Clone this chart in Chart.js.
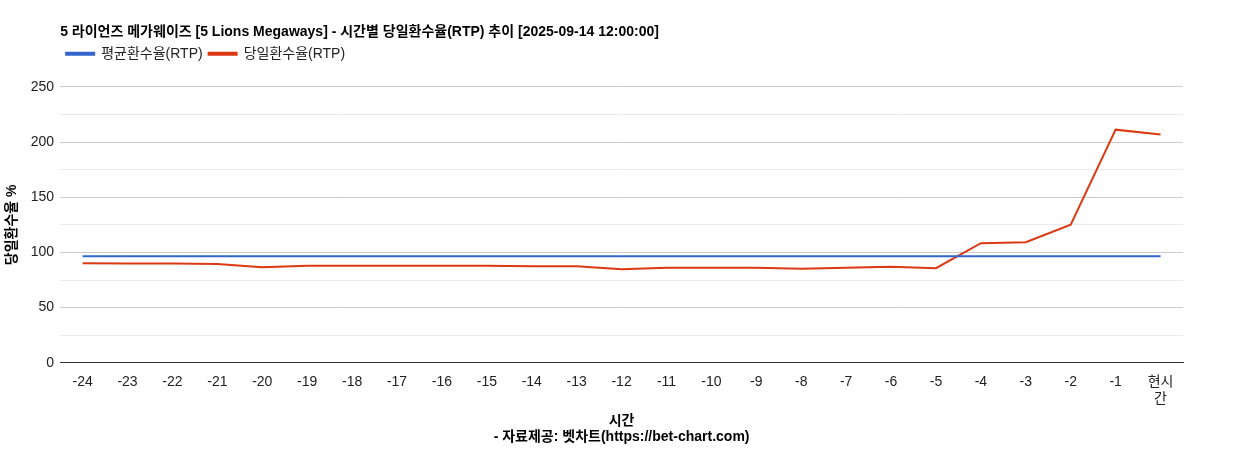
<!DOCTYPE html>
<html>
<head>
<meta charset="utf-8">
<script src="https://cdn.jsdelivr.net/npm/chart.js@4"></script>
<style>
  html, body { margin: 0; padding: 0; background: #fff; }
  #wrap { width: 1245px; height: 450px; }
</style>
</head>
<body>
<div id="wrap"><canvas id="rtpChart"></canvas></div>
<script>
// 시간 라벨
const hours = ['-24','-23','-22','-21','-20','-19','-18','-17','-16','-15','-14','-13',
  '-12','-11','-10','-9','-8','-7','-6','-5','-4','-3','-2','-1',['현시','간']];
// 평균환수율
const avgRtp = [96.6,96.6,96.6,96.6,96.6,96.6,96.6,96.6,96.6,96.6,96.6,96.6,
  96.6,96.6,96.6,96.6,96.6,96.6,96.6,96.6,96.6,96.6,96.6,96.6,96.6];
// 당일환수율
const dayRtp = [90.2,90.0,89.9,89.4,86.6,88.0,88.0,87.8,87.8,87.8,87.5,87.5,
  84.8,86.0,86.0,86.0,85.3,86.0,87.0,85.7,108.3,109.2,125.0,211.2,206.7];

const fontFam = 'Arial, "Liberation Sans", "Noto Sans CJK KR", sans-serif';
Chart.defaults.font.family = fontFam;
Chart.defaults.color = '#222';

// 범례 아래 여백 추가
const legendGap = {
  id: 'legendGap',
  beforeInit(chart) {
    const fit = chart.legend.fit;
    chart.legend.fit = function () {
      fit.bind(chart.legend)();
      this.height += 16;
    };
  }
};

new Chart(document.getElementById('rtpChart'), {
  type: 'line',
  data: {
    labels: hours,
    datasets: [
      { label: '평균환수율(RTP)', data: avgRtp, borderColor: '#3366cc', backgroundColor: '#3366cc',
        borderWidth: 2, pointRadius: 0, tension: 0 },
      { label: '당일환수율(RTP)', data: dayRtp, borderColor: '#dc3912', backgroundColor: '#dc3912',
        borderWidth: 2, pointRadius: 0, tension: 0 }
    ]
  },
  plugins: [legendGap],
  options: {
    responsive: true,
    maintainAspectRatio: false,
    animation: false,
    layout: { padding: { left: 0, right: 62, top: 24, bottom: 0 } },
    plugins: {
      title: {
        display: true, fullSize: false, align: 'start',
        text: '5 라이언즈 메가웨이즈 [5 Lions Megaways] - 시간별 당일환수율(RTP) 추이 [2025-09-14 12:00:00]',
        font: { size: 14, weight: 'bold' }, color: '#000', padding: { top: 0, bottom: 0 }
      },
      legend: {
        fullSize: false, align: 'start',
        labels: { boxWidth: 28, boxHeight: 2, font: { size: 14 }, color: '#222', padding: 6 }
      },
      tooltip: { enabled: false }
    },
    scales: {
      x: {
        offset: true,
        grid: { display: false },
        border: { color: '#333' },
        ticks: { font: { size: 14 }, color: '#222', maxRotation: 0, autoSkip: false },
        title: { display: true, text: ['시간', '- 자료제공: 벳차트(https://bet-chart.com)'],
          font: { size: 14, weight: 'bold' }, color: '#000', padding: { top: 2 } }
      },
      y: {
        min: 0, max: 250,
        grid: {
          color: ctx => (ctx.tick.value % 50 === 0 ? '#cccccc' : '#ebebeb'),
          drawTicks: false
        },
        border: { display: false },
        ticks: { stepSize: 25, padding: 6, font: { size: 14 }, color: '#222',
          callback: v => (v % 50 === 0 ? v : '') },
        title: { display: true, text: '당일환수율 %', font: { size: 14, weight: 'bold' }, color: '#000' }
      }
    }
  }
});
</script>
</body>
</html>
